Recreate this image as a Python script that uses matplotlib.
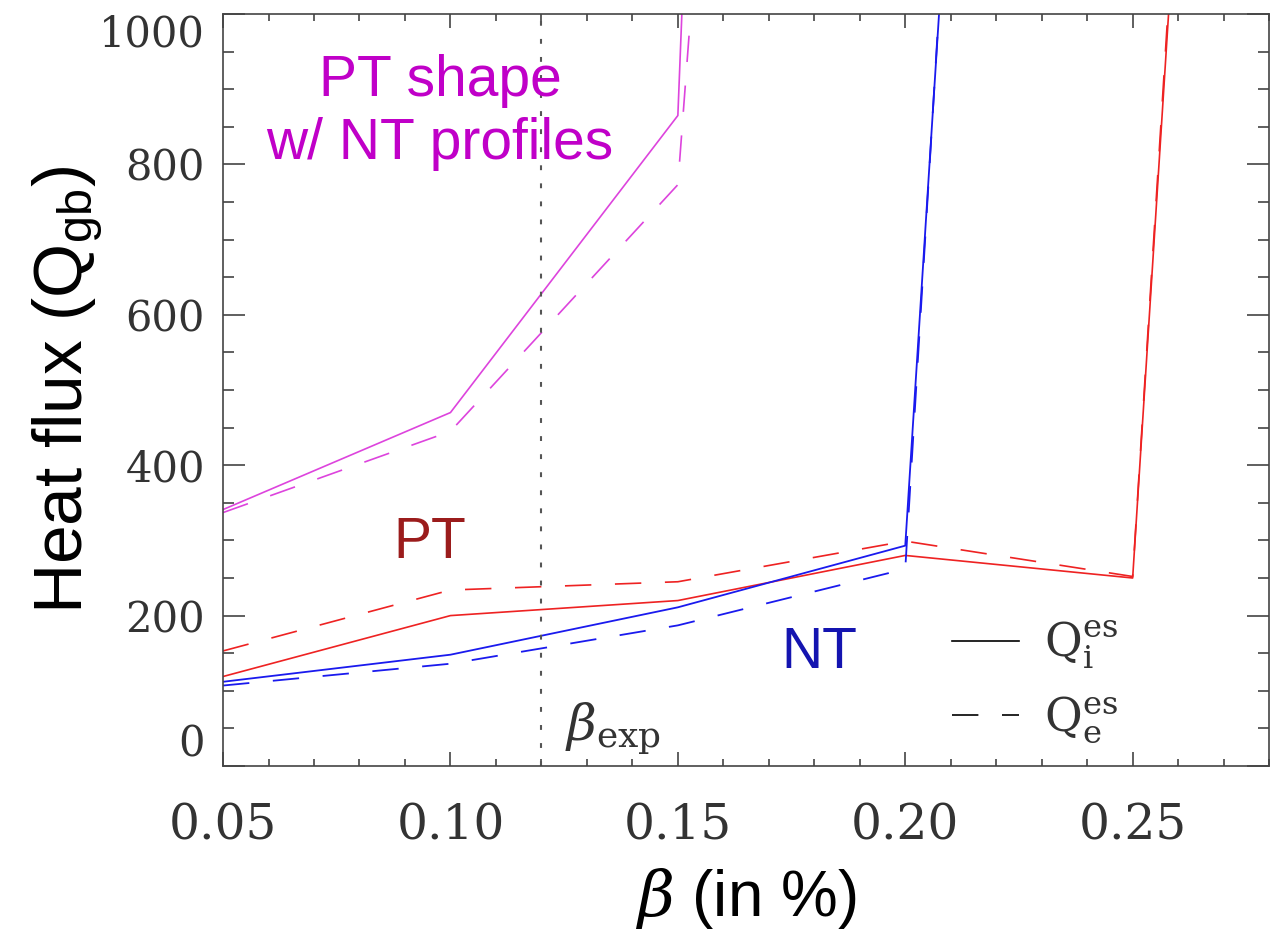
import matplotlib
matplotlib.use('Agg')
import matplotlib.pyplot as plt
from matplotlib.lines import Line2D
from matplotlib.ticker import MultipleLocator

plt.rcParams.update({
    'font.family': 'Liberation Sans',
    'mathtext.fontset': 'custom',
    'mathtext.rm': 'DejaVu Serif',
    'mathtext.it': 'DejaVu Serif:italic',
    'mathtext.sf': 'Liberation Sans',
    'lines.scale_dashes': False,
})

# PT shape with NT profiles (magenta)
beta_mag = [0.05, 0.10, 0.15, 0.16]
mag_qi = [341, 470, 865, 2400]
mag_qe = [337, 445, 773, 1580]

# PT (red)
beta_pt = [0.05, 0.10, 0.15, 0.20, 0.25, 0.26]
pt_qi = [119, 200, 220, 280, 250, 1200]
pt_qe = [153, 234, 245, 299, 252, 1220]

# NT (blue)
beta_nt = [0.05, 0.10, 0.15, 0.20, 0.21]
nt_qi = [112, 148, 211, 293, 1245]
nt_qe = [107, 136, 187, 262, 1265]

beta_exp = 0.12

xticks = [0.05, 0.10, 0.15, 0.20, 0.25]
yticks = [0, 200, 400, 600, 800, 1000]

c_mag, c_red, c_blue = '#dd44dd', '#ee2222', '#1a1aee'
dash = (0, (19, 17))
grey = '#333333'

fig = plt.figure(figsize=(12.71, 9.33), dpi=100)
ax = fig.add_axes([0.1755, 0.179, 0.823, 0.806])

ax.plot(beta_mag, mag_qi, color=c_mag, lw=1.2)
ax.plot(beta_mag, mag_qe, color=c_mag, lw=1.2, ls=dash)
ax.plot(beta_pt, pt_qi, color=c_red, lw=1.2)
ax.plot(beta_pt, pt_qe, color=c_red, lw=1.2, ls=dash)
ax.plot(beta_nt, nt_qi, color=c_blue, lw=1.3)
ax.plot(beta_nt, nt_qe, color=c_blue, lw=1.3, ls=dash)
ax.axvline(beta_exp, color='#555555', lw=1.5, ls=(0, (3.5, 9.5)))

ax.set_xlim(0.05, 0.28)
ax.set_ylim(0, 1000)
ax.set_xticks(xticks, [f'{v:.2f}' for v in xticks], fontfamily='DejaVu Serif', fontsize=35, color=grey)
ax.set_yticks(yticks, [str(v) for v in yticks], fontfamily='DejaVu Serif', fontsize=30, color=grey)
ax.xaxis.set_minor_locator(MultipleLocator(0.01))
ax.yaxis.set_minor_locator(MultipleLocator(50))
ax.tick_params(which='both', direction='in', top=True, right=True, color='#444444', width=1.2)
ax.tick_params(axis='x', which='major', length=10, pad=26)
ax.tick_params(axis='x', which='minor', length=5)
ax.tick_params(axis='y', which='major', length=16, pad=13)
ax.tick_params(axis='y', which='minor', length=8)
ylabs = ax.get_yticklabels()
ylabs[0].set_verticalalignment('bottom')
ylabs[-1].set_verticalalignment('top')
for s in ax.spines.values():
    s.set_color('#444444')
    s.set_linewidth(1.2)

ax.set_ylabel(r'Heat flux (Q$_{\mathsf{gb}}$)', fontsize=50, labelpad=-4)
ax.set_xlabel(r'$\beta$ (in %)', fontsize=46, labelpad=12)

ax.text(0.0977, 869, 'PT shape\nw/ NT profiles', color='#c000c8', fontsize=41,
        ha='center', va='center', linespacing=1.2)
ax.text(0.0955, 297, 'PT', color='#9b1c1c', fontsize=41, ha='center', va='center')
ax.text(0.1811, 150, 'NT', color='#1414b0', fontsize=41, ha='center', va='center')
ax.text(0.1251, 34, r'$\beta_\mathrm{exp}$', color=grey, fontsize=37, ha='left', va='baseline')

handles = [Line2D([], [], color='black', lw=1.2),
           Line2D([], [], color='black', lw=1.2, ls=dash)]
labels = [r'$\mathrm{Q}_\mathrm{i}^\mathrm{es}$', r'$\mathrm{Q}_\mathrm{e}^\mathrm{es}$']
leg = ax.legend(handles, labels, loc='center left', bbox_to_anchor=(0.697, 0.112),
                frameon=False, fontsize=33, handlelength=1.45, handletextpad=0.55,
                borderaxespad=0, borderpad=0, labelspacing=0.5)
for t in leg.get_texts():
    t.set_color(grey)

fig.savefig('out.png', dpi=100)
